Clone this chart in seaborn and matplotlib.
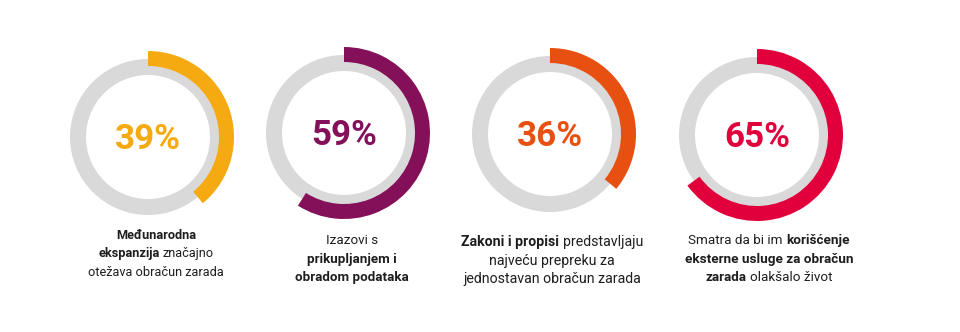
import matplotlib
matplotlib.use("Agg")
import matplotlib.pyplot as plt
import seaborn as sns

sns.set_theme(style="white")
plt.rcParams["font.family"] = ["Roboto", "DejaVu Sans"]

# Survey shares (percent) and their accent colours
shares = [39, 59, 36, 65]
accents = ["#F6AA11", "#84105A", "#E85011", "#E1003C"]
track_color = "#D9D9D9"
text_color = "#1E1E1E"

# Caption lines: each line is a list of (text, bold) pieces joined by spaces
captions = [
    [[("Međunarodna", True)],
     [("ekspanzija", True), ("značajno", False)],
     [("otežava obračun zarada", False)]],
    [[("Izazovi s", False)],
     [("prikupljanjem i", True)],
     [("obradom podataka", True)]],
    [[("Zakoni i propisi", True), ("predstavljaju", False)],
     [("najveću prepreku za", False)],
     [("jednostavan obračun zarada", False)]],
    [[("Smatra da bi im", False), ("korišćenje", True)],
     [("eksterne usluge za obračun", True)],
     [("zarada", True), ("olakšalo život", False)]],
]

W, H = 960, 332
fig = plt.figure(figsize=(W / 100, H / 100), dpi=100)
fig.patch.set_facecolor("white")
ax = fig.add_axes([0, 0, 1, 1])

# layout in pixel units (y measured from the top)
ring_x = [148, 344, 550, 757]
ring_y = [137, 133, 134, 135]
track_r, track_w = 78, 16
arc_r, arc_w = 86, 15
caption_x = [156, 352, 552, 769]
caption_y0 = [239, 244, 246, 244]
caption_size = [9.2, 9.6, 10.2, 9.7]
line_gap = 18.5
pct_size = 25.2

for v, c, cx, cy in zip(shares, accents, ring_x, ring_y):
    center = (cx, H - cy)
    ax.pie([100], radius=track_r, center=center, colors=[track_color],
           startangle=90, wedgeprops=dict(width=track_w, linewidth=0))
    ax.pie([v, 100 - v], radius=arc_r, center=center, colors=[c, "none"],
           startangle=90, counterclock=False,
           wedgeprops=dict(width=arc_w, linewidth=0))
    ax.text(cx, H - cy - 12.4, f"{v}%", ha="center", va="baseline",
            fontsize=pct_size, fontweight="bold", color=c)

ax.set_xlim(0, W)
ax.set_ylim(0, H)
ax.set_aspect("auto")
ax.axis("off")

renderer = fig.canvas.get_renderer()


def text_width(s, bold, size):
    t = ax.text(0, 0, s, fontsize=size,
                fontweight="bold" if bold else "normal")
    w = t.get_window_extent(renderer).width
    t.remove()
    return w


for lines, cx, y0, size in zip(captions, caption_x, caption_y0, caption_size):
    space_w = text_width("n n", False, size) - text_width("nn", False, size)
    for i, pieces in enumerate(lines):
        widths = [text_width(s, b, size) for s, b in pieces]
        total = sum(widths) + space_w * (len(pieces) - 1)
        x = cx - total / 2
        y = H - (y0 + i * line_gap)
        for (s, b), w in zip(pieces, widths):
            ax.text(x, y, s, ha="left", va="baseline", fontsize=size,
                    fontweight="bold" if b else "normal", color=text_color)
            x += w + space_w

fig.savefig("out.png", dpi=100, facecolor="white")
